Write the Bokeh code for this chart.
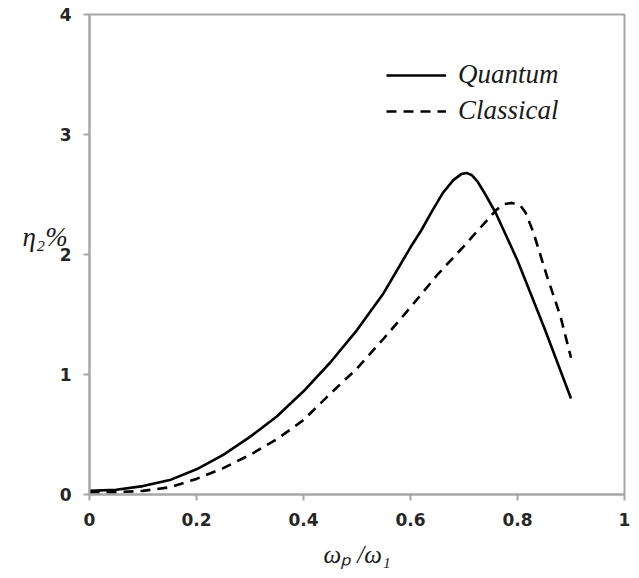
from bokeh.plotting import figure
from bokeh.models import Legend, LegendItem, FixedTicker
from bokeh.embed import file_html
from bokeh.resources import INLINE

# data
x_quantum = [0, 0.05, 0.1, 0.15, 0.2, 0.25, 0.3, 0.35, 0.4, 0.45, 0.5, 0.55, 0.6,
             0.62, 0.64, 0.66, 0.68, 0.695, 0.705, 0.715, 0.725, 0.74, 0.76, 0.8, 0.85, 0.9]
y_quantum = [0.03, 0.04, 0.07, 0.12, 0.21, 0.33, 0.48, 0.65, 0.86, 1.1, 1.37, 1.68, 2.06,
             2.2, 2.36, 2.51, 2.62, 2.67, 2.68, 2.66, 2.61, 2.5, 2.34, 1.95, 1.39, 0.80]

x_classical = [0, 0.05, 0.1, 0.15, 0.2, 0.25, 0.3, 0.35, 0.4, 0.45, 0.5, 0.55, 0.6,
               0.65, 0.7, 0.74, 0.76, 0.775, 0.79, 0.805, 0.815, 0.83, 0.855, 0.88, 0.9]
y_classical = [0.02, 0.02, 0.03, 0.06, 0.13, 0.22, 0.33, 0.46, 0.62, 0.84, 1.05, 1.3, 1.56,
               1.83, 2.07, 2.27, 2.37, 2.42, 2.43, 2.41, 2.35, 2.18, 1.82, 1.49, 1.14]

x_ticks = [0, 0.2, 0.4, 0.6, 0.8, 1]
x_tick_labels = ["0", "0.2", "0.4", "0.6", "0.8", "1"]
y_ticks = [0, 1, 2, 3, 4]
y_tick_labels = ["0", "1", "2", "3", "4"]

series_names = ["Quantum", "Classical"]
x_title = "ωₚ /ω₁"
y_title = "η₂%"

p = figure(width=631, height=570, output_backend="svg", toolbar_location=None,
           x_range=(0, 1), y_range=(0, 4),
           min_border_left=89, min_border_right=7, min_border_top=14, min_border_bottom=74)
p.background_fill_color = "white"
p.border_fill_color = "white"
p.grid.visible = False
p.outline_line_color = "#a6a6a6"
p.outline_line_width = 2

for ax in (p.xaxis[0], p.yaxis[0]):
    ax.axis_line_color = "#a6a6a6"
    ax.axis_line_width = 2
    ax.major_tick_line_color = "#a6a6a6"
    ax.major_tick_line_width = 2
    ax.major_tick_in = 0
    ax.major_tick_out = 6
    ax.minor_tick_line_color = None
    ax.major_label_text_font = "DejaVu Sans"
    ax.major_label_text_font_style = "bold"
    ax.major_label_text_font_size = "17px"
    ax.major_label_text_color = "#262626"

p.xaxis.ticker = FixedTicker(ticks=x_ticks)
p.xaxis.major_label_overrides = dict(zip(x_ticks, x_tick_labels))
p.yaxis.ticker = FixedTicker(ticks=y_ticks)
p.yaxis.major_label_overrides = dict(zip(y_ticks, y_tick_labels))
p.xaxis.major_label_standoff = 12
p.yaxis.major_label_standoff = 12

p.xaxis.axis_label = x_title
p.xaxis.axis_label_text_font = "Liberation Serif"
p.xaxis.axis_label_text_font_style = "italic"
p.xaxis.axis_label_text_font_size = "25px"
p.xaxis.axis_label_text_color = "#1a1a1a"
p.xaxis.axis_label_standoff = 12

p.yaxis.axis_label = y_title + "\n "
p.yaxis.axis_label_orientation = "horizontal"
p.yaxis.axis_label_text_font = "Liberation Serif"
p.yaxis.axis_label_text_font_style = "italic"
p.yaxis.axis_label_text_font_size = "27px"
p.yaxis.axis_label_text_color = "#1a1a1a"
p.yaxis.axis_label_standoff = -11

r_q = p.line(x_quantum, y_quantum, line_color="black", line_width=2.6)
r_c = p.line(x_classical, y_classical, line_color="black", line_width=2.6, line_dash="10 7")

legend = Legend(items=[LegendItem(label=series_names[0], renderers=[r_q]),
                       LegendItem(label=series_names[1], renderers=[r_c])],
                location=(297, 368), orientation="vertical")
legend.border_line_color = None
legend.background_fill_alpha = 0
legend.padding = 0
legend.margin = 0
legend.spacing = 5
legend.glyph_width = 60
legend.glyph_height = 20
legend.label_height = 20
legend.label_standoff = 12
legend.label_text_font = "Liberation Serif"
legend.label_text_font_style = "italic"
legend.label_text_font_size = "27px"
legend.label_text_color = "#1a1a1a"
p.add_layout(legend)

open("out.html", "w").write(file_html(p, INLINE))
